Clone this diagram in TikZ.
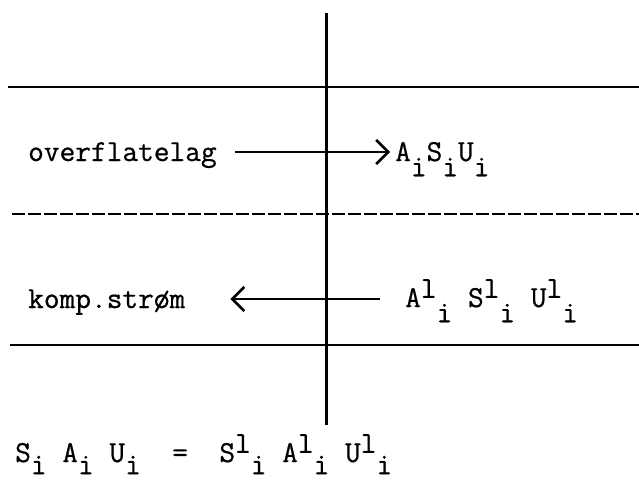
\documentclass[tikz,border=0pt]{standalone}
\usepackage{fontspec}
\usepackage{tikz}
\usetikzlibrary{arrows.meta,positioning}
\newfontfamily\typer[FakeBold=0.7]{Latin Modern Mono}
\newcommand{\lowi}[1][0.5em]{\raisebox{-#1}{i}}
\newcommand{\highl}{\raisebox{0.3em}{l}}

\begin{document}
\begin{tikzpicture}[
  x=1pt, y=-1pt,
  txt/.style={inner sep=0pt, anchor=base west,
              font=\fontsize{30.5}{36}\selectfont\typer},
  rule/.style={line width=2.2pt},
  arr/.style={-{Straight Barb[length=12pt,width=24pt,line width=2.6pt]},
              line width=2.8pt}
]
\useasboundingbox (0,0) rectangle (639,482);
% layers
\draw[line width=3pt] (326,13) -- (326,425);
\draw[rule] (8,87) -- (639,87);
\draw[rule, dash pattern=on 13pt off 3pt] (12,214) -- (639,214);
\draw[rule] (10,345) -- (639,345);

\node[txt] (ovl) at (28,161) {overflatelag};
\node[txt] (asu) at (395,161) {A\lowi S\lowi U\lowi};
\draw[arr, shorten <=18pt, shorten >=5pt]
  ([yshift=9pt]ovl.base east) -- ([yshift=9pt]asu.base west);

\node[txt] (komp) at (28,308) {komp.strøm};
\node[txt] (asul) at (405,307) {A\highl\lowi~S\highl\lowi~U\highl\lowi};
\draw[arr, shorten <=25pt, shorten >=45pt]
  ([yshift=8pt]asul.base west) -- ([yshift=9pt]komp.base east);

\node[txt] (eq) at (15,462)
  {S\lowi[0.4em]~A\lowi[0.4em]~U\lowi[0.4em]~~=~~%
   S\highl\lowi[0.4em]~A\highl\lowi[0.4em]~U\highl\lowi[0.4em]};
\end{tikzpicture}
\end{document}
